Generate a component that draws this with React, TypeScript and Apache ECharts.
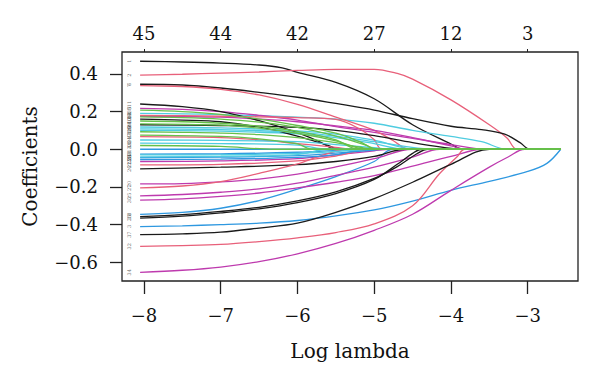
import React, { useEffect, useRef } from "react";
import * as echarts from "echarts";

// Log lambda axis ticks and number of non-zero coefficients (top axis)
const xTicks = [-8, -7, -6, -5, -4, -3];
const dfLabels = ["45", "44", "42", "27", "12", "3"];
const yTicks = [-0.6, -0.4, -0.2, 0, 0.2, 0.4];
const lambdaEnd = -2.57;

// coefficient paths: [log lambda, coefficient]
const blackPaths: number[][][] = [
  [[-8.05,0.467],[-7.5,0.463],[-7,0.457],[-6.5,0.447],[-6.2,0.432],[-6,0.408],[-5.5,0.355],[-5,0.268],[-4.5,0.13],[-4,0.028],[-3.85,0]],
  [[-8.05,0.345],[-7.5,0.341],[-7,0.325],[-6.5,0.302],[-6,0.276],[-5.5,0.243],[-5,0.208],[-4.5,0.162],[-4,0.122],[-3.6,0.104],[-3.3,0.08],[-3.1,0.035],[-2.97,0]],
  [[-8.05,0.24],[-7.5,0.226],[-7,0.2],[-6.5,0.152],[-6,0.088],[-5.7,0.038],[-5.5,0]],
  [[-8.05,0.16],[-7.5,0.155],[-7,0.146],[-6.4,0.11],[-5.9,0.058],[-5.6,0.02],[-5.45,0]],
  [[-8.05,0.13],[-7,0.126],[-6,0.116],[-5.5,0.1],[-5,0.072],[-4.5,0.035],[-4.1,0.01],[-3.85,0]],
  [[-8.05,-0.104],[-7,-0.095],[-6,-0.082],[-5.5,-0.065],[-5,-0.038],[-4.6,0]],
  [[-8.05,-0.357],[-7.5,-0.347],[-7,-0.33],[-6.5,-0.308],[-6,-0.274],[-5.5,-0.226],[-5,-0.155],[-4.7,-0.092],[-4.45,-0.025],[-4.3,0]],
  [[-8.05,-0.365],[-7.5,-0.355],[-7,-0.338],[-6.5,-0.316],[-6,-0.283],[-5.5,-0.235],[-5,-0.16],[-4.7,-0.08],[-4.5,-0.022],[-4.38,0]],
  [[-8.05,-0.453],[-7.5,-0.449],[-7,-0.44],[-6.5,-0.418],[-6,-0.392],[-5.5,-0.335],[-5,-0.262],[-4.5,-0.175],[-4,-0.08],[-3.5,0]],
];

const redPaths: number[][][] = [
  [[-8.05,0.393],[-7.5,0.398],[-7,0.404],[-6.5,0.41],[-6,0.418],[-5.5,0.424],[-5,0.424],[-4.7,0.402],[-4.5,0.372],[-4,0.262],[-3.5,0.13],[-3.27,0.06],[-3.14,0]],
  [[-8.05,0.338],[-7.5,0.333],[-7,0.318],[-6.5,0.288],[-6,0.238],[-5.5,0.17],[-5,0.1],[-4.75,0.045],[-4.55,0]],
  [[-8.05,0.18],[-7.5,0.178],[-7,0.175],[-6.5,0.172],[-6,0.168],[-5.5,0.158],[-5.2,0.11],[-5,0.05],[-4.9,0]],
  [[-8.05,0.067],[-7,0.062],[-6.5,0.05],[-6,0.03],[-5.5,0.01],[-5.3,0]],
  [[-8.05,-0.083],[-7,-0.08],[-6,-0.062],[-5.5,-0.036],[-5,0]],
  [[-8.05,-0.205],[-7.5,-0.195],[-7,-0.172],[-6.5,-0.128],[-6,-0.078],[-5.7,-0.035],[-5.35,0]],
  [[-8.05,-0.515],[-7.5,-0.511],[-7,-0.505],[-6.5,-0.49],[-6,-0.47],[-5.5,-0.442],[-5,-0.396],[-4.5,-0.3],[-4.15,-0.13],[-3.92,-0.04],[-3.82,0]],
];

const greenPaths: number[][][] = [
  [[-8.05,0.208],[-7.5,0.2],[-7,0.185],[-6.5,0.16],[-6,0.126],[-5.5,0.085],[-5.2,0.042],[-4.95,0]],
  [[-8.05,0.172],[-7.5,0.168],[-7,0.16],[-6.5,0.144],[-6,0.116],[-5.5,0.07],[-5.1,0.02],[-5,0]],
  [[-8.05,0.15],[-7.5,0.146],[-7,0.138],[-6.5,0.122],[-6,0.095],[-5.5,0.05],[-5.2,0]],
  [[-8.05,0.135],[-7,0.128],[-6.5,0.112],[-6,0.085],[-5.5,0.045],[-5.1,0]],
  [[-8.05,0.093],[-7.5,0.09],[-7,0.086],[-6.5,0.078],[-6,0.062],[-5.5,0.035],[-5.2,0.012],[-5,0]],
  [[-8.05,0.075],[-7,0.068],[-6.5,0.055],[-6,0.028],[-5.8,0]],
  [[-8.05,0.02],[-7,0.015],[-6.3,0]],
];

const bluePaths: number[][][] = [
  [[-8.05,-0.41],[-7.5,-0.406],[-7,-0.4],[-6.5,-0.392],[-6,-0.378],[-5.5,-0.354],[-5,-0.322],[-4.5,-0.275],[-4,-0.218],[-3.5,-0.17],[-3,-0.118],[-2.75,-0.075],[-2.57,0]],
  [[-8.05,-0.345],[-7.5,-0.335],[-7,-0.313],[-6.5,-0.272],[-6,-0.212],[-5.5,-0.145],[-5,-0.065],[-4.76,0]],
  [[-8.05,0],[-7,0],[-6,0]],
  [[-8.05,-0.026],[-7,-0.024],[-6,-0.016],[-5.5,-0.006],[-5.2,0]],
  [[-8.05,-0.045],[-7,-0.042],[-6,-0.034],[-5.5,-0.02],[-5,-0.004],[-4.9,0]],
  [[-8.05,-0.055],[-7,-0.052],[-6,-0.043],[-5.5,-0.028],[-5.1,0]],
];

const cyanPaths: number[][][] = [
  [[-8.05,0.19],[-7.5,0.188],[-7,0.184],[-6.5,0.178],[-6,0.17],[-5.5,0.16],[-5,0.138],[-4.5,0.1],[-4,0.068],[-3.6,0.04],[-3.27,0]],
  [[-8.05,0.118],[-7,0.113],[-6,0.098],[-5.5,0.08],[-5,0.048],[-4.45,0]],
  [[-8.05,0.1],[-7,0.096],[-6,0.082],[-5.5,0.062],[-5,0.03],[-4.6,0]],
  [[-8.05,0.108],[-7,0.104],[-6,0.09],[-5.5,0.07],[-5,0.04],[-4.2,0]],
  [[-8.05,0.049],[-7,0.047],[-6,0.04],[-5.5,0.025],[-5,0.008],[-4.8,0]],
  [[-8.05,0.032],[-7,0.03],[-6,0.022],[-5.6,0]],
  [[-8.05,-0.03],[-7,-0.029],[-6,-0.022],[-5.5,-0.012],[-5,0]],
  [[-8.05,-0.04],[-7,-0.037],[-6,-0.028],[-5.6,0]],
];

const magentaPaths: number[][][] = [
  [[-8.05,0.217],[-7.5,0.212],[-7,0.2],[-6.5,0.18],[-6,0.155],[-5.5,0.12],[-5,0.09],[-4.5,0.058],[-4,0.025],[-3.53,0]],
  [[-8.05,0.175],[-7,0.17],[-6.5,0.16],[-6,0.146],[-5.5,0.124],[-5,0.1],[-4.5,0.062],[-4,0.018],[-3.8,0]],
  [[-8.05,-0.065],[-7,-0.062],[-6,-0.05],[-5.5,-0.03],[-5,-0.008],[-4.8,0]],
  [[-8.05,-0.184],[-7.5,-0.182],[-7,-0.173],[-6.5,-0.158],[-6,-0.132],[-5.5,-0.094],[-5,-0.05],[-4.5,0]],
  [[-8.05,-0.247],[-7.5,-0.24],[-7,-0.228],[-6.5,-0.21],[-6,-0.18],[-5.5,-0.138],[-5,-0.095],[-4.5,-0.042],[-4.15,0]],
  [[-8.05,-0.27],[-7.5,-0.263],[-7,-0.25],[-6.5,-0.232],[-6,-0.205],[-5.5,-0.175],[-5,-0.14],[-4.5,-0.09],[-4,-0.038],[-3.59,0]],
  [[-8.05,-0.653],[-7.5,-0.642],[-7,-0.625],[-6.5,-0.596],[-6,-0.555],[-5.5,-0.5],[-5,-0.43],[-4.5,-0.345],[-4,-0.218],[-3.5,-0.095],[-3.25,-0.04],[-3.04,0]],
];

const COLORS = {
  black: "#1a1a1a",
  red: "#E8607A",
  green: "#66C04A",
  blue: "#2E98E0",
  cyan: "#4FCCE0",
  magenta: "#BE3AAE",
};

const FONT = "DejaVu Serif";
const fmt = (v: number) => {
  const s = Math.abs(v) < 1e-9 ? "0.0" : v.toFixed(1);
  return s.replace("-", "\u2212");
};

export default function App() {
  const ref = useRef<HTMLDivElement>(null);
  useEffect(() => {
    if (!ref.current) return;
    const chart = echarts.init(ref.current, undefined, { renderer: "svg" });

    const groups: [number[][][], string][] = [
      [blackPaths, COLORS.black],
      [redPaths, COLORS.red],
      [bluePaths, COLORS.blue],
      [cyanPaths, COLORS.cyan],
      [magentaPaths, COLORS.magenta],
    ];
    const ordered: { path: number[][]; color: string }[] = [];
    const maxLen = Math.max(...groups.map((g) => g[0].length));
    for (let i = 0; i < maxLen; i++) {
      for (const [paths, color] of groups) {
        if (i < paths.length) ordered.push({ path: paths[i], color });
      }
    }
    greenPaths.forEach((p) => ordered.push({ path: p, color: COLORS.green }));

    const lineSeries = ordered.map((o, i) => {
      const data = o.path.map((p) => [p[0], p[1]]);
      const last = data[data.length - 1];
      if (last[0] < lambdaEnd) data.push([lambdaEnd, 0]);
      return {
        type: "line",
        name: "v" + (i + 1),
        data,
        showSymbol: false,
        smooth: 0.35,
        lineStyle: { color: o.color, width: 1.3 },
        silent: true,
        z: 2,
      };
    });

    const idxData = ordered.map((o, i) => [-8.2, o.path[0][1], i + 1]);

    chart.setOption({
      animation: false,
      backgroundColor: "#fff",
      grid: {
        left: 122,
        right: 22,
        top: 52,
        bottom: 107,
        show: true,
        borderColor: "#222",
        borderWidth: 1.3,
        backgroundColor: "transparent",
      },
      xAxis: [
        {
          type: "value",
          min: -8.286,
          max: -2.345,
          position: "bottom",
          name: "Log lambda",
          nameLocation: "middle",
          nameGap: 60,
          nameTextStyle: { fontFamily: FONT, fontSize: 20, color: "#111" },
          axisLine: { show: false, onZero: false },
          splitLine: { show: false },
          axisTick: {
            show: true,
            customValues: xTicks,
            length: 13,
            lineStyle: { color: "#222", width: 1.3 },
          },
          axisLabel: {
            customValues: xTicks,
            margin: 25,
            fontFamily: FONT,
            fontSize: 18,
            color: "#111",
            formatter: (v: number) => fmt(v).replace(".0", ""),
          },
        },
        {
          type: "value",
          min: -8.286,
          max: -2.345,
          position: "top",
          axisLine: { show: false, onZero: false },
          splitLine: { show: false },
          axisTick: {
            show: true,
            customValues: xTicks,
            length: 3,
            lineStyle: { color: "#222", width: 1 },
          },
          axisLabel: {
            customValues: xTicks,
            margin: 10,
            fontFamily: FONT,
            fontSize: 18,
            color: "#111",
            formatter: (v: number) => {
              const k = xTicks.indexOf(Math.round(v));
              return k >= 0 ? dfLabels[k] : "";
            },
          },
        },
      ],
      yAxis: {
        type: "value",
        min: -0.699,
        max: 0.516,
        name: "Coefficients",
        nameLocation: "middle",
        nameGap: 82,
        nameRotate: 90,
        nameTextStyle: { fontFamily: FONT, fontSize: 20, color: "#111" },
        axisLine: { show: false, onZero: false },
        splitLine: { show: false },
        axisTick: {
          show: true,
          customValues: yTicks,
          length: 12,
          lineStyle: { color: "#222", width: 1.3 },
        },
        axisLabel: {
          customValues: yTicks,
          margin: 24,
          fontFamily: FONT,
          fontSize: 18,
          color: "#111",
          formatter: (v: number) => fmt(v),
        },
      },
      series: [
        ...lineSeries,
        {
          type: "scatter",
          data: idxData,
          symbolSize: 0,
          silent: true,
          z: 3,
          label: {
            show: true,
            formatter: (p: any) => String(p.value[2]),
            fontSize: 5,
            color: "#444",
            fontFamily: FONT,
            rotate: 90,
          },
        },
      ],
    });
    return () => chart.dispose();
  }, []);

  return (
    <div
      ref={ref}
      style={{ position: "absolute", left: 0, top: 0, width: 600, height: 388, background: "#fff" }}
    />
  );
}
